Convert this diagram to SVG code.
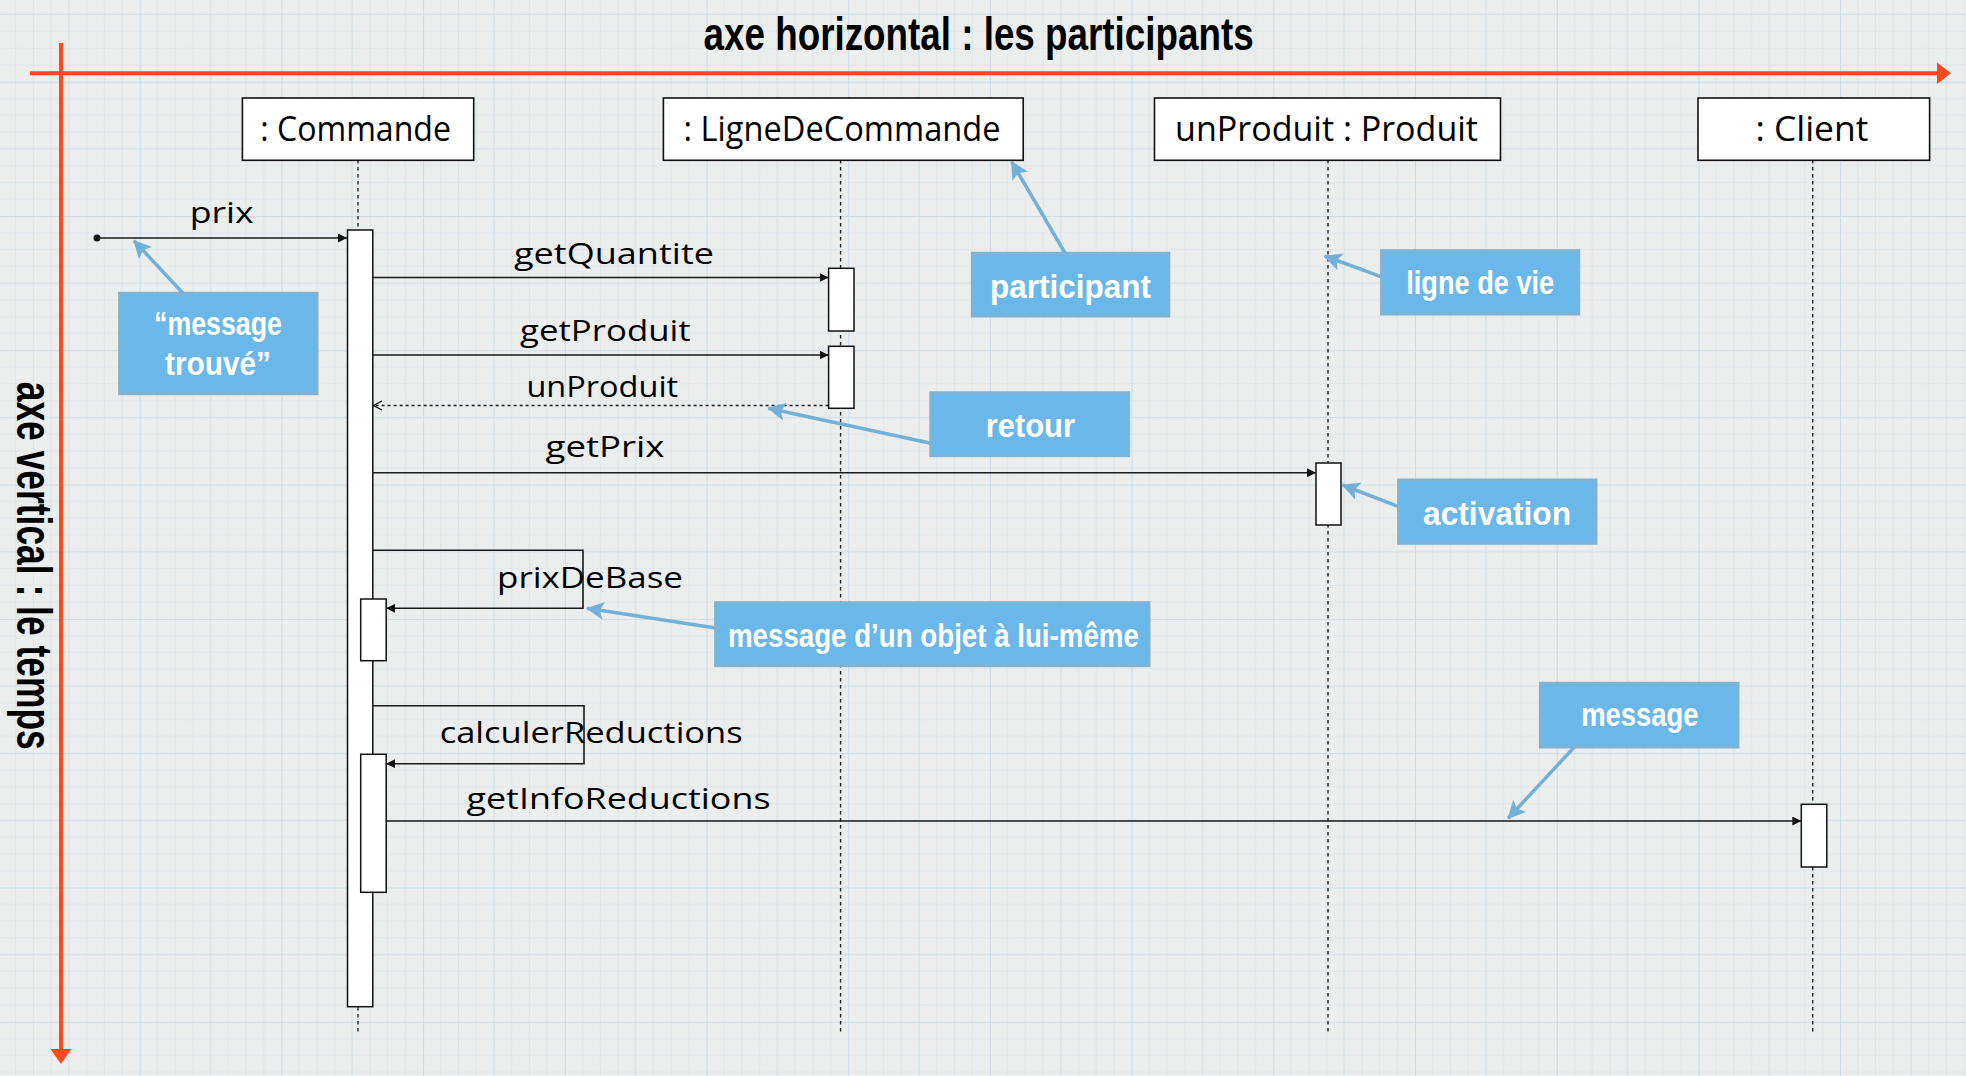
<svg xmlns="http://www.w3.org/2000/svg" width="1966" height="1076" viewBox="0 0 1966 1076">
<defs>
<style>
.bg{fill:#eceeee}
.box{fill:#ffffff;stroke:#111;stroke-width:1.6}
.bar{fill:#ffffff;stroke:#111;stroke-width:1.5}
.life{stroke:#222;stroke-width:1.4;stroke-dasharray:3.5 3.5;fill:none}
.msg{stroke:#1a1a1a;stroke-width:1.6;fill:none}
.ret{stroke:#1a1a1a;stroke-width:1.5;stroke-dasharray:3 3;fill:none}
.axis{stroke:#fb4a1e;stroke-width:4;fill:none}
.note{fill:#69b8e9;stroke:#80b3d3;stroke-width:3}
.noteArrow{stroke:#72b0d8;stroke-width:3.5;fill:none}
.pname{font-family:"Open Sans","Noto Sans",sans-serif;font-size:35px;fill:#000}
.mtxt{font-family:"Open Sans","Noto Sans",sans-serif;font-size:30px;fill:#000}
.ntxt{font-family:"Liberation Sans","DejaVu Sans",sans-serif;font-weight:bold;font-size:33px;fill:#ffffff}
.title{font-family:"Liberation Sans","DejaVu Sans",sans-serif;font-weight:bold;font-size:46px;fill:#000}
.vtitle{font-family:"Liberation Sans","DejaVu Sans",sans-serif;font-weight:bold;font-size:50px;fill:#000}
</style>
<pattern id="grid" patternUnits="userSpaceOnUse" x="-2" y="81.7" width="141.7" height="134.3">
<g stroke="#dfe6e9" stroke-width="1">
<path d="M17.7 0V134.3M35.4 0V134.3M53.1 0V134.3M88.6 0V134.3M106.3 0V134.3M124 0V134.3"/>
<path d="M0 16.8H141.7M0 33.6H141.7M0 50.4H141.7M0 83.9H141.7M0 100.7H141.7M0 117.5H141.7"/>
</g>
<g stroke="#d6e2e7" stroke-width="1.3">
<path d="M70.85 0V134.3M0 67.15H141.7"/>
</g>
<g stroke="#c9dde7" stroke-width="2">
<path d="M0 0V134.3M0 0H141.7"/>
</g>
</pattern>
<marker id="ah" markerUnits="userSpaceOnUse" markerWidth="10" markerHeight="9" refX="9" refY="4.5" orient="auto">
<path d="M0 0L9 4.5L0 9Z" fill="#111"/>
</marker>
<marker id="ahOpen" markerUnits="userSpaceOnUse" markerWidth="11" markerHeight="11" refX="9.5" refY="5" orient="auto">
<path d="M1 0.5L9.5 5L1 9.5" fill="none" stroke="#111" stroke-width="1.4"/>
</marker>
<marker id="bh" markerUnits="userSpaceOnUse" markerWidth="20" markerHeight="18" refX="17" refY="9" orient="auto">
<path d="M0 0L18 9L0 18L4 9Z" fill="#72b0d8"/>
</marker>
</defs>

<rect class="bg" x="0" y="0" width="1966" height="1076"/>
<rect x="0" y="0" width="1966" height="1076" fill="url(#grid)"/>

<g id="axes">
<path class="axis" d="M30 73.3H1939"/>
<path d="M1937 62.5L1951 73.3L1937 84.1Z" fill="#fb4a1e"/>
<path class="axis" d="M61 43V1051"/>
<path d="M50.5 1049L61 1064L71.5 1049Z" fill="#fb4a1e"/>
<text class="title" x="703.6" y="50" textLength="550" lengthAdjust="spacingAndGlyphs">axe horizontal : les participants</text>
<text class="vtitle" transform="translate(16.7 381.7) rotate(90)" x="0" y="0" textLength="368" lengthAdjust="spacingAndGlyphs">axe vertical : le temps</text>
</g>

<g id="lifelines">
<path class="life" d="M358 160V1033"/>
<path class="life" d="M840.6 160V1033"/>
<path class="life" d="M1328 160V1033"/>
<path class="life" d="M1812.7 160V1033"/>
</g>

<g id="p-commande">
<rect class="box" x="242.4" y="98" width="231.3" height="62.3"/>
<text class="pname" x="260.3" y="141" textLength="190.6" lengthAdjust="spacingAndGlyphs">: Commande</text>
</g>
<g id="p-lignedecommande">
<rect class="box" x="663.4" y="98" width="359.8" height="62.3"/>
<text class="pname" x="683.5" y="141" textLength="317" lengthAdjust="spacingAndGlyphs">: LigneDeCommande</text>
</g>
<g id="p-produit">
<rect class="box" x="1154.5" y="98" width="346" height="62.3"/>
<text class="pname" x="1175" y="141" textLength="303" lengthAdjust="spacingAndGlyphs">unProduit : Produit</text>
</g>
<g id="p-client">
<rect class="box" x="1698" y="98" width="231.6" height="62.3"/>
<text class="pname" x="1755.4" y="141" textLength="113" lengthAdjust="spacingAndGlyphs">: Client</text>
</g>

<g id="activations">
<rect class="bar" x="347.5" y="230" width="25.3" height="776.7"/>
<rect class="bar" x="360.7" y="599" width="25.5" height="61.7"/>
<rect class="bar" x="360.7" y="754.3" width="25.5" height="138"/>
<rect class="bar" x="828.6" y="268.3" width="25.4" height="62.7"/>
<rect class="bar" x="828.6" y="346.3" width="25.4" height="62"/>
<rect class="bar" x="1316" y="463" width="25" height="62"/>
<rect class="bar" x="1801.3" y="804.3" width="25.5" height="62.7"/>
</g>

<g id="connectors">
<circle cx="97" cy="238" r="3.5" fill="#111"/>
<path class="msg" d="M97 238H347" marker-end="url(#ah)"/>
<path class="msg" d="M372.8 277.5H828.6" marker-end="url(#ah)"/>
<path class="msg" d="M372.8 355H828.6" marker-end="url(#ah)"/>
<path class="ret" d="M828.6 405.5H373.5" marker-end="url(#ahOpen)"/>
<path class="msg" d="M372.8 472.7H1316" marker-end="url(#ah)"/>
<path class="msg" d="M372.8 550.3H583V608.3H386.2" marker-end="url(#ah)"/>
<path class="msg" d="M372.8 705.7H584V763.7H386.2" marker-end="url(#ah)"/>
<path class="msg" d="M386.2 821H1801.3" marker-end="url(#ah)"/>
<text class="mtxt" x="189.7" y="222.7" textLength="64" lengthAdjust="spacingAndGlyphs">prix</text>
<text class="mtxt" x="514" y="264" textLength="200" lengthAdjust="spacingAndGlyphs">getQuantite</text>
<text class="mtxt" x="520" y="340.7" textLength="170.7" lengthAdjust="spacingAndGlyphs">getProduit</text>
<text class="mtxt" x="526.4" y="396.7" textLength="151.8" lengthAdjust="spacingAndGlyphs">unProduit</text>
<text class="mtxt" x="545.5" y="456.7" textLength="119" lengthAdjust="spacingAndGlyphs">getPrix</text>
<text class="mtxt" x="497" y="588.3" textLength="186" lengthAdjust="spacingAndGlyphs">prixDeBase</text>
<text class="mtxt" x="439.7" y="743.3" textLength="303" lengthAdjust="spacingAndGlyphs">calculerReductions</text>
<text class="mtxt" x="466.5" y="809.3" textLength="304" lengthAdjust="spacingAndGlyphs">getInfoReductions</text>
</g>

<g id="note-arrows">
<path class="noteArrow" d="M183 293.3L134 240.7" marker-end="url(#bh)"/>
<path class="noteArrow" d="M1065 253L1011.6 161.7" marker-end="url(#bh)"/>
<path class="noteArrow" d="M1381 276.7L1324.6 256" marker-end="url(#bh)"/>
<path class="noteArrow" d="M930.8 443.3L768.3 408.3" marker-end="url(#bh)"/>
<path class="noteArrow" d="M1398.6 506.7L1342.5 485" marker-end="url(#bh)"/>
<path class="noteArrow" d="M715.6 628L587 608.3" marker-end="url(#bh)"/>
<path class="noteArrow" d="M1582.5 738.3L1508.2 818.3" marker-end="url(#bh)"/>
</g>

<g id="n-message-trouve">
<rect class="note" x="119.6" y="293.3" width="197.4" height="100.4"/>
<text class="ntxt" x="154" y="335" textLength="128" lengthAdjust="spacingAndGlyphs">“message</text>
<text class="ntxt" x="165" y="375" textLength="106" lengthAdjust="spacingAndGlyphs">trouvé”</text>
</g>
<g id="n-participant">
<rect class="note" x="972.3" y="253.3" width="196.5" height="62.7"/>
<text class="ntxt" x="990" y="298" textLength="161" lengthAdjust="spacingAndGlyphs">participant</text>
</g>
<g id="n-ligne-de-vie">
<rect class="note" x="1381.6" y="250.7" width="197.1" height="63.3"/>
<text class="ntxt" x="1406.2" y="294" textLength="148" lengthAdjust="spacingAndGlyphs">ligne de vie</text>
</g>
<g id="n-retour">
<rect class="note" x="930.8" y="392.7" width="197.8" height="63"/>
<text class="ntxt" x="985.7" y="436.7" textLength="89.3" lengthAdjust="spacingAndGlyphs">retour</text>
</g>
<g id="n-activation">
<rect class="note" x="1398.6" y="480" width="197.4" height="63.3"/>
<text class="ntxt" x="1423" y="525" textLength="148" lengthAdjust="spacingAndGlyphs">activation</text>
</g>
<g id="n-message-soi">
<rect class="note" x="715.6" y="602.7" width="433.4" height="63"/>
<text class="ntxt" x="728" y="646.7" textLength="410.8" lengthAdjust="spacingAndGlyphs">message d’un objet à lui-même</text>
</g>
<g id="n-message">
<rect class="note" x="1540.4" y="683.3" width="197.6" height="63.7"/>
<text class="ntxt" x="1581.2" y="725.5" textLength="117.3" lengthAdjust="spacingAndGlyphs">message</text>
</g>
</svg>
